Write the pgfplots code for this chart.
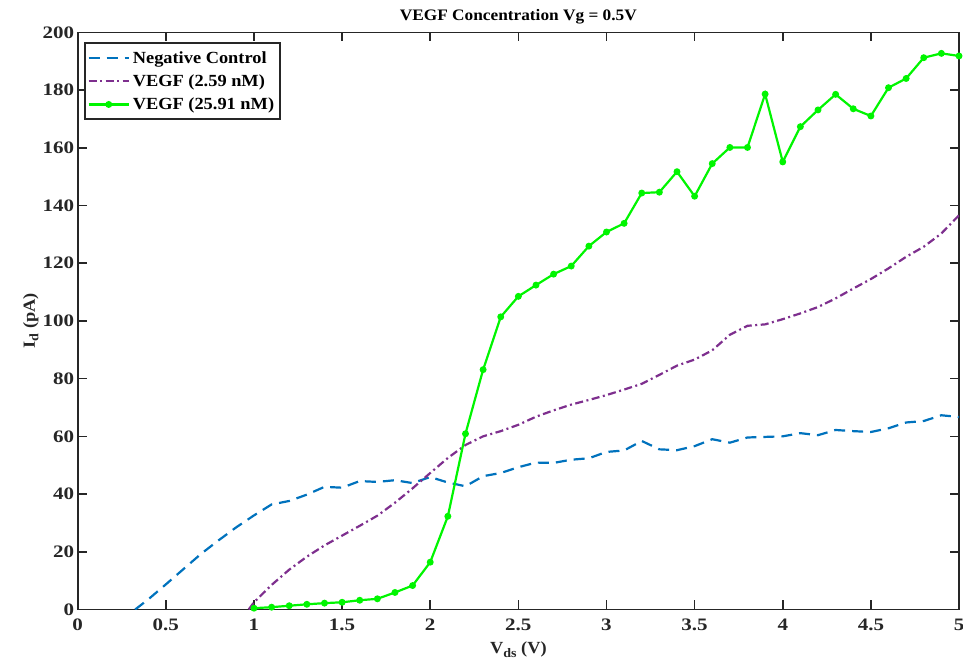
\documentclass[border=0pt]{standalone}
\usepackage{fontspec}
\setmainfont{Liberation Serif}[FakeStretch=1.08]
\newfontfamily\tickfont{Liberation Serif}[FakeStretch=1.2]
\usepackage{pgfplots}
\pgfplotsset{compat=1.18}
\definecolor{mblue}{RGB}{0,114,189}
\definecolor{mpurple}{RGB}{126,47,142}
\definecolor{mgreen}{RGB}{0,245,0}
\definecolor{axgray}{RGB}{38,38,38}
\newcommand{\lf}{\fontsize{17}{20}\selectfont\bfseries}
\newcommand{\tf}{\tickfont\fontsize{17.5}{20}\selectfont\bfseries}
\begin{document}
\begin{tikzpicture}
\begin{axis}[
  scale only axis, width=881pt, height=577pt,
  xmin=0, xmax=5, ymin=0, ymax=200,
  xtick={0,0.5,1,1.5,2,2.5,3,3.5,4,4.5,5},
  ytick={0,20,40,60,80,100,120,140,160,180,200},
  tick align=inside, major tick length=9pt,
  axis line style={axgray, line width=1.6pt},
  every tick/.style={axgray, line width=1.6pt},
  /pgf/number format/assume math mode=true,
  tick label style={font=\tf, text=axgray},
  xticklabel style={anchor=north, yshift=-6pt},
  title={VEGF Concentration Vg = 0.5V},
  title style={font=\fontsize{16}{19}\selectfont\bfseries, text=black, at={(axis description cs:0.5,1)}, anchor=south, yshift=-1pt},
  xlabel={V\raisebox{-0.45ex}{\fontsize{13}{13}\selectfont ds} (V)},
  xlabel style={font=\lf, text=axgray, at={(axis description cs:0.5,0)}, anchor=north, yshift=-29pt},
  ylabel={I\raisebox{-0.45ex}{\fontsize{13}{13}\selectfont d} (pA)},
  ylabel style={font=\lf, text=axgray, at={(axis description cs:-0.0405,0.5)}, anchor=south},
  legend cell align=left,
  legend style={at={(axis description cs:0,1)}, anchor=north west, xshift=6pt, yshift=-10pt,
    draw=axgray, line width=1.8pt, font=\lf, fill=white, inner xsep=3pt, inner ysep=8pt, row sep=10pt,
    nodes={inner xsep=3pt, inner ysep=0pt}},
  legend image code/.code={\draw[mark repeat=2,mark phase=2,#1] plot coordinates {(0pt,0pt) (20pt,0pt) (40pt,0pt)};},
]
\addplot[mblue, line width=2.2pt, dash pattern=on 11pt off 7pt] coordinates {
(0.326,0) (0.4,3.5) (0.5,8.7) (0.6,14) (0.7,19.3) (0.8,24) (0.9,28.5) (1.0,32.6)
(1.1,36.4) (1.2,37.6) (1.3,39.8) (1.4,42.5) (1.5,42.2) (1.6,44.5) (1.7,44.2) (1.8,44.8)
(1.9,43.8) (2.0,45.9) (2.1,44.0) (2.2,42.7) (2.3,46.2) (2.4,47.3) (2.5,49.3) (2.6,50.9)
(2.7,50.8) (2.8,51.9) (2.9,52.4) (3.0,54.6) (3.1,55.1) (3.2,58.4) (3.3,55.5) (3.4,55.2)
(3.5,56.6) (3.6,59.0) (3.7,57.8) (3.8,59.6) (3.9,59.8) (4.0,60.0) (4.1,61.1) (4.2,60.4)
(4.3,62.2) (4.4,61.8) (4.5,61.5) (4.6,62.8) (4.7,64.8) (4.8,65.3) (4.9,67.3) (5.0,66.7)
};
\addlegendentry{Negative Control}
\addplot[mpurple, line width=2.2pt, dash pattern=on 8pt off 3.5pt on 2pt off 3.5pt] coordinates {
(0.97,0) (1.0,2.5) (1.1,8.5) (1.2,13.8) (1.3,18.3) (1.4,22.2) (1.5,25.6) (1.6,29) (1.7,32.5)
(1.8,37) (1.9,42) (2.0,47.3) (2.1,52.5) (2.2,57) (2.3,60) (2.4,61.8) (2.5,64) (2.6,66.8)
(2.7,69) (2.8,71) (2.9,72.6) (3.0,74.3) (3.1,76.2) (3.2,78.2) (3.3,81.3) (3.4,84.5) (3.5,86.6)
(3.6,89.8) (3.7,95.2) (3.8,98.3) (3.9,98.8) (4.0,100.6) (4.1,102.6) (4.2,104.8) (4.3,107.8)
(4.4,111.2) (4.5,114.5) (4.6,118.2) (4.7,122.2) (4.8,125.7) (4.9,130.3) (5.0,136.6)
};
\addlegendentry{VEGF (2.59 nM)}
\addplot[mgreen, line width=2.2pt, mark=*, mark size=2.3pt, mark options={solid}] coordinates {
(1.0,0.45) (1.1,0.8) (1.2,1.3) (1.3,1.8) (1.4,2.2) (1.5,2.5) (1.6,3.2) (1.7,3.7) (1.8,5.9)
(1.9,8.3) (2.0,16.4) (2.1,32.3) (2.2,60.9) (2.3,83.1) (2.4,101.4) (2.5,108.5) (2.6,112.4)
(2.7,116.2) (2.8,119.0) (2.9,125.9) (3.0,130.8) (3.1,133.8) (3.2,144.3) (3.3,144.6) (3.4,151.7)
(3.5,143.2) (3.6,154.5) (3.7,160.1) (3.8,160.1) (3.9,178.6) (4.0,155.1) (4.1,167.3) (4.2,173.1)
(4.3,178.5) (4.4,173.5) (4.5,171.0) (4.6,180.8) (4.7,184.0) (4.8,191.2) (4.9,192.7) (5.0,191.8)
};
\addlegendentry{VEGF (25.91 nM)}
\end{axis}
\pgfresetboundingbox
\path ([xshift=-77.7pt,yshift=-57pt]current axis.south west) rectangle ([xshift=4pt,yshift=32.3pt]current axis.north east);
\end{tikzpicture}
\end{document}
